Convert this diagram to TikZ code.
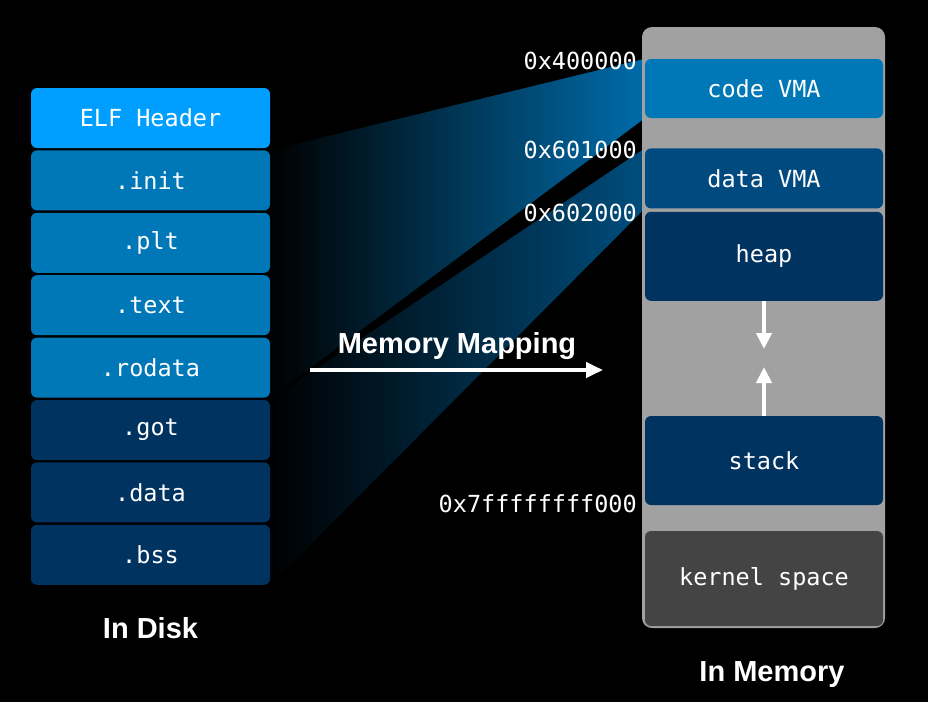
\documentclass[tikz,border=0pt]{standalone}
\usepackage{fontspec}
\setmainfont{Liberation Sans}
\setmonofont{DejaVu Sans Mono}
\usetikzlibrary{positioning,arrows.meta}

\definecolor{elfblue}{RGB}{0,159,255}
\definecolor{codeblue}{RGB}{0,119,182}
\definecolor{datablue}{RGB}{0,74,127}
\definecolor{navy}{RGB}{0,51,96}
\definecolor{kernelgray}{RGB}{68,68,68}
\definecolor{panelgray}{RGB}{161,161,161}
\definecolor{beamone}{RGB}{0,108,170}
\definecolor{beamtwo}{RGB}{0,78,126}

\pgfdeclarelayer{back}
\pgfdeclarelayer{beams}
\pgfsetlayers{back,beams,main}

\begin{document}
\begin{tikzpicture}[x=1pt, y=-1pt]
        \tikzstyle{sect}=[rectangle, rounded corners=6pt, minimum width=239pt, minimum height=60pt, inner sep=0pt, text=white, font=\fontsize{23.5}{28}\selectfont\ttfamily];
        \tikzstyle{vma}=[sect, minimum width=238pt];
        \tikzstyle{addr}=[anchor=base east, inner sep=0pt, text=white, font=\fontsize{23.5}{28}\selectfont\ttfamily];
        \tikzstyle{heading}=[anchor=base, inner sep=0pt, text=white, font=\fontsize{29}{34}\selectfont\bfseries];
        \tikzstyle{whitearrow}=[draw=white, line width=4pt, -{Triangle[length=16pt, width=15pt]}];

        \begin{pgfonlayer}{back}
            \fill[black] (0,0) rectangle (928,702);
        \end{pgfonlayer}

        % in disk
        \node[sect, fill=elfblue] (elf) at (150.5,118) {ELF Header};
        \node[sect, fill=codeblue, below=2pt of elf] (init) {.init};
        \node[sect, fill=codeblue, below=2pt of init] (plt) {.plt};
        \node[sect, fill=codeblue, below=2pt of plt] (text) {.text};
        \node[sect, fill=codeblue, below=2pt of text] (rodata) {.rodata};
        \node[sect, fill=navy, below=2pt of rodata] (got) {.got};
        \node[sect, fill=navy, below=2pt of got] (data) {.data};
        \node[sect, fill=navy, below=2pt of data] (bss) {.bss};
        \node[heading] (disktitle) at (150.5,638) {In Disk};

        % in memory
        \node[rectangle, rounded corners=10pt, fill=panelgray, minimum width=243pt, minimum height=601pt, inner sep=0pt] (mem) at (763.5,327.5) {};
        \node[vma, fill=codeblue, minimum height=59pt] (codevma) at (764,88.5) {code VMA};
        \node[vma, fill=datablue, below=30pt of codevma] (datavma) {data VMA};
        \node[vma, fill=navy, minimum height=89pt, below=3pt of datavma] (heap) {heap};
        \node[vma, fill=navy, minimum height=89pt] (stack) at (764,460.5) {stack};
        \node[vma, fill=kernelgray, minimum height=95pt] (kernel) at (764,578.5) {kernel space};
        \node[heading] (memtitle) at (772,681) {In Memory};

        \node[addr] (a400) at (637,69) {0x400000};
        \node[addr] (a601) at (637,158) {0x601000};
        \node[addr] (a602) at (637,221) {0x602000};
        \node[addr] (a7ff) at (637,512) {0x7ffffffff000};

        \coordinate (heapend) at (764,349);
        \coordinate (stackend) at (764,367);
        \draw[whitearrow] (heap.south) -- (heapend);
        \draw[whitearrow] (stack.north) -- (stackend);

        % mapping
        \begin{pgfonlayer}{beams}
            \shade[left color=black, right color=beamone] (init.north east) -- (codevma.north west) -- (codevma.south west) -- (rodata.south east) -- cycle;
            \shade[left color=black, right color=beamtwo] (got.north east) -- (datavma.north west) -- (datavma.south west) -- (bss.south east) -- cycle;
        \end{pgfonlayer}

        \coordinate (mapfrom) at (310,370);
        \coordinate (mapto) at (603,370);
        \node[heading] (maptitle) at (457,353) {Memory Mapping};
        \draw[whitearrow, -{Triangle[length=17pt, width=15pt]}] (mapfrom) -- (mapto);
    \end{tikzpicture}
\end{document}
